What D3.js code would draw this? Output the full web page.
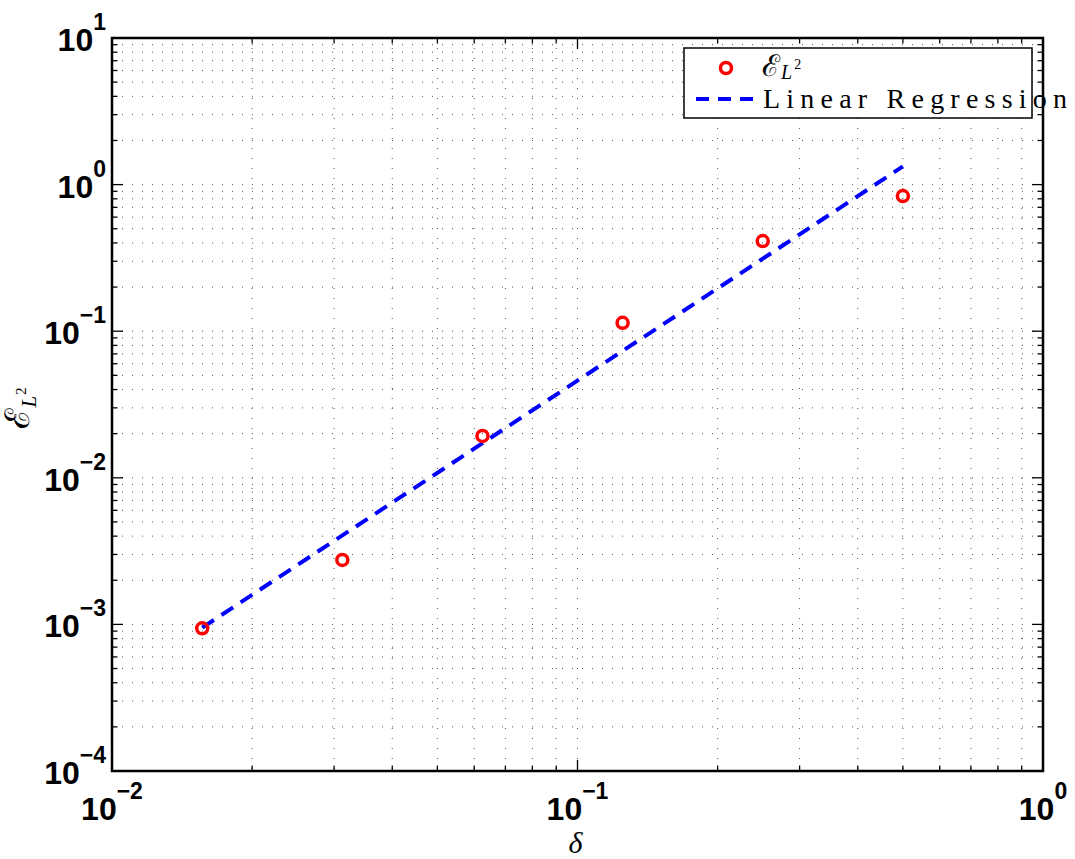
<!DOCTYPE html>
<html>
<head>
<meta charset="utf-8">
<script src="https://cdn.jsdelivr.net/npm/d3@7"></script>
<style>
  body { margin: 0; background: #fff; }
  svg { display: block; }
</style>
</head>
<body>
<svg id="chart"></svg>
<script>
// delta values (step sizes) and the measured L2 error
const deltas = [1/64, 1/32, 1/16, 1/8, 1/4, 1/2];
const errors = [9.4e-4, 2.75e-3, 0.0193, 0.114, 0.412, 0.836];

// regression line end points
const fitX = [1/64, 1/2];
const fitY = [9.5e-4, 1.33];

// decade ticks
const xDecades = [-2, -1, 0];
const yDecades = [-4, -3, -2, -1, 0, 1];

const width = 1075, height = 859;
const margin = {top: 38, right: 32, bottom: 88, left: 112};
const w = width - margin.left - margin.right;
const h = height - margin.top - margin.bottom;

const svg = d3.select("#chart")
    .attr("width", width)
    .attr("height", height);

const g = svg.append("g")
    .attr("transform", `translate(${margin.left},${margin.top})`);

const x = d3.scaleLog().domain([1e-2, 1]).range([0, w]);
const y = d3.scaleLog().domain([1e-4, 10]).range([h, 0]);

// minor + major tick values
function logTicks(decades) {
  let out = [];
  decades.forEach((d, i) => {
    if (i == decades.length - 1) { out.push(Math.pow(10, d)); return; }
    for (let k = 1; k < 10; k++) out.push(k * Math.pow(10, d));
  });
  return out;
}
const xAll = logTicks(xDecades);
const yAll = logTicks(yDecades);

// dotted grid
g.append("g").selectAll("line")
    .data(xAll.filter(v => v > 1e-2 && v < 1))
  .join("line")
    .attr("x1", d => x(d)).attr("x2", d => x(d))
    .attr("y1", 0).attr("y2", h)
    .attr("stroke", "#555")
    .attr("stroke-width", 1)
    .attr("stroke-dasharray", "1,9");

g.append("g").selectAll("line")
    .data(yAll.filter(v => v > 1e-4 && v < 10))
  .join("line")
    .attr("x1", 0).attr("x2", w)
    .attr("y1", d => y(d)).attr("y2", d => y(d))
    .attr("stroke", "#555")
    .attr("stroke-width", 1)
    .attr("stroke-dasharray", "1,9");

// inward ticks on all four sides
function tickLen(v) { return Math.abs(Math.log10(v) - Math.round(Math.log10(v))) < 1e-9 ? 11 : 5.5; }

const ticks = g.append("g").attr("stroke", "#000").attr("stroke-width", 1.3);
xAll.forEach(v => {
  ticks.append("line").attr("x1", x(v)).attr("x2", x(v)).attr("y1", h).attr("y2", h - tickLen(v));
  ticks.append("line").attr("x1", x(v)).attr("x2", x(v)).attr("y1", 0).attr("y2", tickLen(v));
});
yAll.forEach(v => {
  ticks.append("line").attr("y1", y(v)).attr("y2", y(v)).attr("x1", 0).attr("x2", tickLen(v));
  ticks.append("line").attr("y1", y(v)).attr("y2", y(v)).attr("x1", w).attr("x2", w - tickLen(v));
});

// box
g.append("rect")
    .attr("width", w).attr("height", h)
    .attr("fill", "none")
    .attr("stroke", "#000")
    .attr("stroke-width", 2.5);

// tick labels: 10 with superscript exponent
const labelFont = "'Liberation Sans', Arial, sans-serif";
function expText(e) { return e < 0 ? "\u2212" + Math.abs(e) : String(e); }

xDecades.forEach(e => {
  const t = svg.append("text")
      .attr("x", margin.left + x(Math.pow(10, e)))
      .attr("y", margin.top + h + 49)
      .attr("text-anchor", "middle")
      .attr("font-family", labelFont)
      .attr("font-weight", "bold")
      .attr("font-size", 32);
  t.append("tspan").text("10");
  t.append("tspan").attr("dy", -21).attr("font-size", 23).text(expText(e));
});

yDecades.forEach(e => {
  const t = svg.append("text")
      .attr("x", 106)
      .attr("y", margin.top + y(Math.pow(10, e)) + 13)
      .attr("text-anchor", "end")
      .attr("font-family", labelFont)
      .attr("font-weight", "bold")
      .attr("font-size", 32);
  t.append("tspan").text("10");
  t.append("tspan").attr("dy", -21).attr("font-size", 23).text(expText(e));
});

// axis titles
const serif = "'Liberation Serif', serif";
svg.append("text")
    .attr("x", margin.left + w / 2 - 2)
    .attr("y", 853)
    .attr("text-anchor", "middle")
    .attr("font-family", serif)
    .attr("font-style", "italic")
    .attr("font-size", 30)
    .text("δ");

const yl = svg.append("text")
    .attr("transform", `translate(29,408) rotate(-90)`)
    .attr("text-anchor", "middle")
    .attr("font-family", serif)
    .attr("font-size", 34);
yl.append("tspan").text("ℰ");
yl.append("tspan").attr("dy", 7).attr("font-size", 21).attr("font-style", "italic").text("L");
yl.append("tspan").attr("dy", -10).attr("dx", 1).attr("font-size", 15).text("2");

// regression line
g.append("line")
    .attr("x1", x(fitX[0])).attr("y1", y(fitY[0]))
    .attr("x2", x(fitX[1])).attr("y2", y(fitY[1]))
    .attr("stroke", "#0000ff")
    .attr("stroke-width", 4)
    .attr("stroke-dasharray", "14,9");

// data markers
g.selectAll("circle.pt")
    .data(deltas.map((d, i) => ({d: d, e: errors[i]})))
  .join("circle")
    .attr("class", "pt")
    .attr("cx", d => x(d.d))
    .attr("cy", d => y(d.e))
    .attr("r", 5.5)
    .attr("fill", "none")
    .attr("stroke", "#ff0000")
    .attr("stroke-width", 3.5);

// legend
const lg = svg.append("g");
lg.append("rect")
    .attr("x", 684).attr("y", 48)
    .attr("width", 348).attr("height", 70)
    .attr("fill", "#fff")
    .attr("stroke", "#000")
    .attr("stroke-width", 1.5);
lg.append("circle")
    .attr("cx", 726).attr("cy", 68).attr("r", 5.5)
    .attr("fill", "none").attr("stroke", "#ff0000").attr("stroke-width", 3.5);
const lt = lg.append("text")
    .attr("x", 762).attr("y", 76)
    .attr("font-family", serif)
    .attr("font-size", 30);
lt.append("tspan").text("ℰ");
lt.append("tspan").attr("dy", 3).attr("dx", 1).attr("font-size", 20).attr("font-style", "italic").text("L");
lt.append("tspan").attr("dy", -10).attr("dx", 2).attr("font-size", 14).text("2");
lg.append("line")
    .attr("x1", 696).attr("x2", 758)
    .attr("y1", 99).attr("y2", 99)
    .attr("stroke", "#0000ff")
    .attr("stroke-width", 4)
    .attr("stroke-dasharray", "13,9");
lg.append("text")
    .attr("x", 763).attr("y", 108)
    .attr("font-family", serif)
    .attr("font-size", 28)
    .attr("textLength", 304)
    .attr("lengthAdjust", "spacing")
    .text("Linear Regression");
</script>
</body>
</html>
